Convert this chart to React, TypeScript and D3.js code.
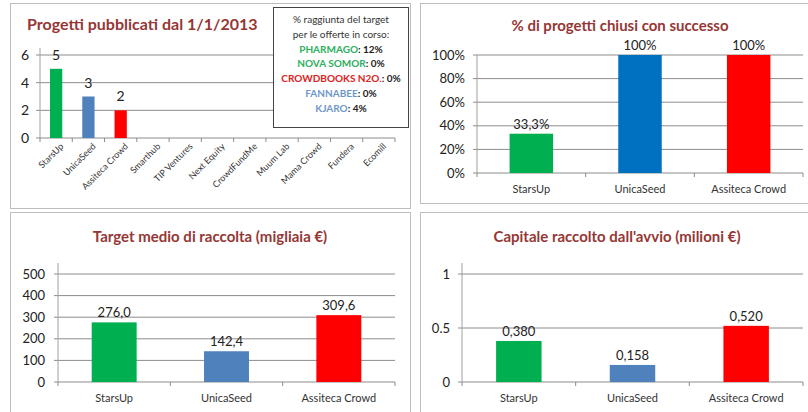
import React from "react";
import * as d3 from "d3";

const platformsAll = ["StarsUp", "UnicaSeed", "Assiteca Crowd", "Smarthub", "TIP Ventures", "Next Equity", "CrowdFundMe", "Muum Lab", "Mama Crowd", "Fundera", "Ecomill"];
const projectsPublished = [5, 3, 2, null, null, null, null, null, null, null, null];
const projectsColors = ["#00B050", "#4F81BD", "#FF0000"];
const projectsTicks = [0, 2, 4, 6];

const platforms3 = ["StarsUp", "UnicaSeed", "Assiteca Crowd"];
const successRate = [33.3, 100, 100];
const successLabels = ["33,3%", "100%", "100%"];
const successColors = ["#00B050", "#0070C0", "#FF0000"];
const successTicks = [0, 20, 40, 60, 80, 100];

const targetAvg = [276.0, 142.4, 309.6];
const targetLabels = ["276,0", "142,4", "309,6"];
const targetTicks = [0, 100, 200, 300, 400, 500];

const capitalRaised = [0.38, 0.158, 0.52];
const capitalLabels = ["0,380", "0,158", "0,520"];
const capitalTicks = [0, 0.5, 1];

const bottomColors = ["#00B050", "#4F81BD", "#FF0000"];

const legendLines = [
  { name: "% raggiunta del target", value: "", color: "#333", bold: false },
  { name: "per le offerte in corso:", value: "", color: "#333", bold: false },
  { name: "PHARMAGO", value: ": 12%", color: "#2DB060", bold: true },
  { name: "NOVA SOMOR", value: ": 0%", color: "#2DB060", bold: true },
  { name: "CROWDBOOKS N2O.", value: ": 0%", color: "#E02020", bold: true },
  { name: "FANNABEE", value: ": 0%", color: "#6E97C8", bold: true },
  { name: "KJARO", value: ": 4%", color: "#6E97C8", bold: true },
];

const FONT = "Lato, 'Open Sans', sans-serif";
const TITLE_COLOR = "#953735";

type PanelProps = {
  cats: string[];
  values: (number | null)[];
  labels: string[];
  colors: string[];
  ticks: number[];
  tickFmt: (v: number) => string;
  yMax: number;
  x0: number; x1: number; y0: number; y1: number;
  axisTop: number;
  barRatio: number;
  rotate?: boolean;
  labelSize: number;
  labelGap: number;
  tickSize: number;
  catSize: number;
  catY?: number;
  yLabelX: number;
};

function BarPanel(p: PanelProps) {
  const x = d3.scaleBand<string>().domain(p.cats).range([p.x0, p.x1]).paddingInner(0).paddingOuter(0);
  const y = d3.scaleLinear().domain([0, p.yMax]).range([p.y0, p.y1]);
  const bw = x.bandwidth() * p.barRatio;
  const boundaries = p.cats.map((c) => x(c)!).concat([p.x1]);
  return (
    <g>
      {p.ticks.filter((t) => t > 0).map((t) => (
        <line key={"g" + t} x1={p.x0} x2={p.x1} y1={y(t)} y2={y(t)} stroke="#8c8c8c" strokeWidth={1} />
      ))}
      {p.ticks.map((t) => (
        <g key={"t" + t}>
          <line x1={p.x0 - 4} x2={p.x0} y1={y(t)} y2={y(t)} stroke="#8c8c8c" />
          <text x={p.yLabelX} y={y(t)} dy="0.35em" textAnchor="end" fontSize={p.tickSize} fill="#222" fontFamily={FONT}>
            {p.tickFmt(t)}
          </text>
        </g>
      ))}
      <line x1={p.x0} x2={p.x0} y1={p.y0} y2={p.axisTop} stroke="#a0a0a0" />
      <line x1={p.x0} x2={p.x1} y1={p.y0} y2={p.y0} stroke="#8c8c8c" />
      {boundaries.map((b, i) => (
        <line key={"b" + i} x1={b} x2={b} y1={p.y0} y2={p.y0 + 4} stroke="#8c8c8c" />
      ))}
      {p.cats.map((c, i) => {
        const v = p.values[i];
        const cx = x(c)! + x.bandwidth() / 2;
        return (
          <g key={c}>
            {v != null && (
              <rect x={cx - bw / 2} y={y(v)} width={bw} height={p.y0 - y(v)} fill={p.colors[i]} />
            )}
            {v != null && p.labels[i] && (
              <text x={cx} y={y(v) - p.labelGap} textAnchor="middle" fontSize={p.labelSize} fill="#222" fontFamily={FONT}>
                {p.labels[i]}
              </text>
            )}
            {p.rotate ? (
              <text
                transform={`translate(${cx + 8},${p.y0 + 9}) rotate(-45)`}
                textAnchor="end"
                fontSize={p.catSize}
                fill="#333"
                fontFamily={FONT}
              >
                {c}
              </text>
            ) : (
              <text x={cx} y={p.catY} textAnchor="middle" fontSize={p.catSize} fill="#333" fontFamily={FONT}>
                {c}
              </text>
            )}
          </g>
        );
      })}
    </g>
  );
}

export default function App() {
  return (
    <svg width={808} height={412} style={{ position: "absolute", left: 0, top: 0, background: "#fff" }}>
      <rect x={0} y={0} width={808} height={412} fill="#fff" />
      {/* panels */}
      <rect x={10.5} y={3.5} width={400} height={205} fill="#fff" stroke="#bdbdbd" />
      <rect x={420.5} y={3.5} width={395} height={200} fill="#fff" stroke="#bdbdbd" />
      <rect x={10.5} y={212.5} width={400} height={210} fill="#fff" stroke="#bdbdbd" />
      <rect x={420.5} y={212.5} width={395} height={210} fill="#fff" stroke="#bdbdbd" />

      {/* top-left */}
      <text x={27} y={30} fontSize={16} fontWeight="bold" fill={TITLE_COLOR} fontFamily={FONT}>
        Progetti pubblicati dal 1/1/2013
      </text>
      <BarPanel
        cats={platformsAll}
        values={projectsPublished}
        labels={projectsPublished.map((v) => (v == null ? "" : String(v)))}
        colors={projectsColors}
        ticks={projectsTicks}
        tickFmt={(v) => String(v)}
        yMax={6}
        x0={40}
        x1={395}
        y0={138}
        y1={55}
        axisTop={48}
        barRatio={0.38}
        rotate
        labelSize={14}
        labelGap={9}
        tickSize={14}
        catSize={9}
        yLabelX={29}
      />
      <rect x={273.5} y={7.5} width={135} height={120} fill="#fff" stroke="#444" />
      {legendLines.map((l, i) => (
        <text key={i} x={341} y={23 + i * 14.8} textAnchor="middle" fontSize={10} fontFamily={FONT} fill="#333">
          <tspan fill={l.color} fontWeight={l.bold ? "bold" : "normal"}>{l.name}</tspan>
          {l.value && <tspan fill="#222" fontWeight="bold">{l.value}</tspan>}
        </text>
      ))}

      {/* top-right */}
      <text x={620} y={31} textAnchor="middle" fontSize={15} fontWeight="bold" fill={TITLE_COLOR} fontFamily={FONT}>
        % di progetti chiusi con successo
      </text>
      <BarPanel
        cats={platforms3}
        values={successRate}
        labels={successLabels}
        colors={successColors}
        ticks={successTicks}
        tickFmt={(v) => v + "%"}
        yMax={100}
        x0={477}
        x1={803}
        y0={173}
        y1={55}
        axisTop={55}
        barRatio={0.4}
        labelSize={13}
        labelGap={5}
        tickSize={13}
        catSize={11}
        catY={193}
        yLabelX={465}
      />

      {/* bottom-left */}
      <text x={210} y={242} textAnchor="middle" fontSize={15} fontWeight="bold" fill={TITLE_COLOR} fontFamily={FONT}>
        Target medio di raccolta (migliaia €)
      </text>
      <BarPanel
        cats={platforms3}
        values={targetAvg}
        labels={targetLabels}
        colors={bottomColors}
        ticks={targetTicks}
        tickFmt={(v) => String(v)}
        yMax={500}
        x0={58}
        x1={395}
        y0={382}
        y1={274}
        axisTop={263}
        barRatio={0.4}
        labelSize={13}
        labelGap={5}
        tickSize={13}
        catSize={11}
        catY={402}
        yLabelX={45}
      />

      {/* bottom-right */}
      <text x={617} y={242} textAnchor="middle" fontSize={15} fontWeight="bold" fill={TITLE_COLOR} fontFamily={FONT}>
        Capitale raccolto dall'avvio (milioni €)
      </text>
      <BarPanel
        cats={platforms3}
        values={capitalRaised}
        labels={capitalLabels}
        colors={bottomColors}
        ticks={capitalTicks}
        tickFmt={(v) => String(v)}
        yMax={1}
        x0={462}
        x1={803}
        y0={382}
        y1={274}
        axisTop={263}
        barRatio={0.4}
        labelSize={13}
        labelGap={5}
        tickSize={13}
        catSize={11}
        catY={402}
        yLabelX={450}
      />
    </svg>
  );
}
